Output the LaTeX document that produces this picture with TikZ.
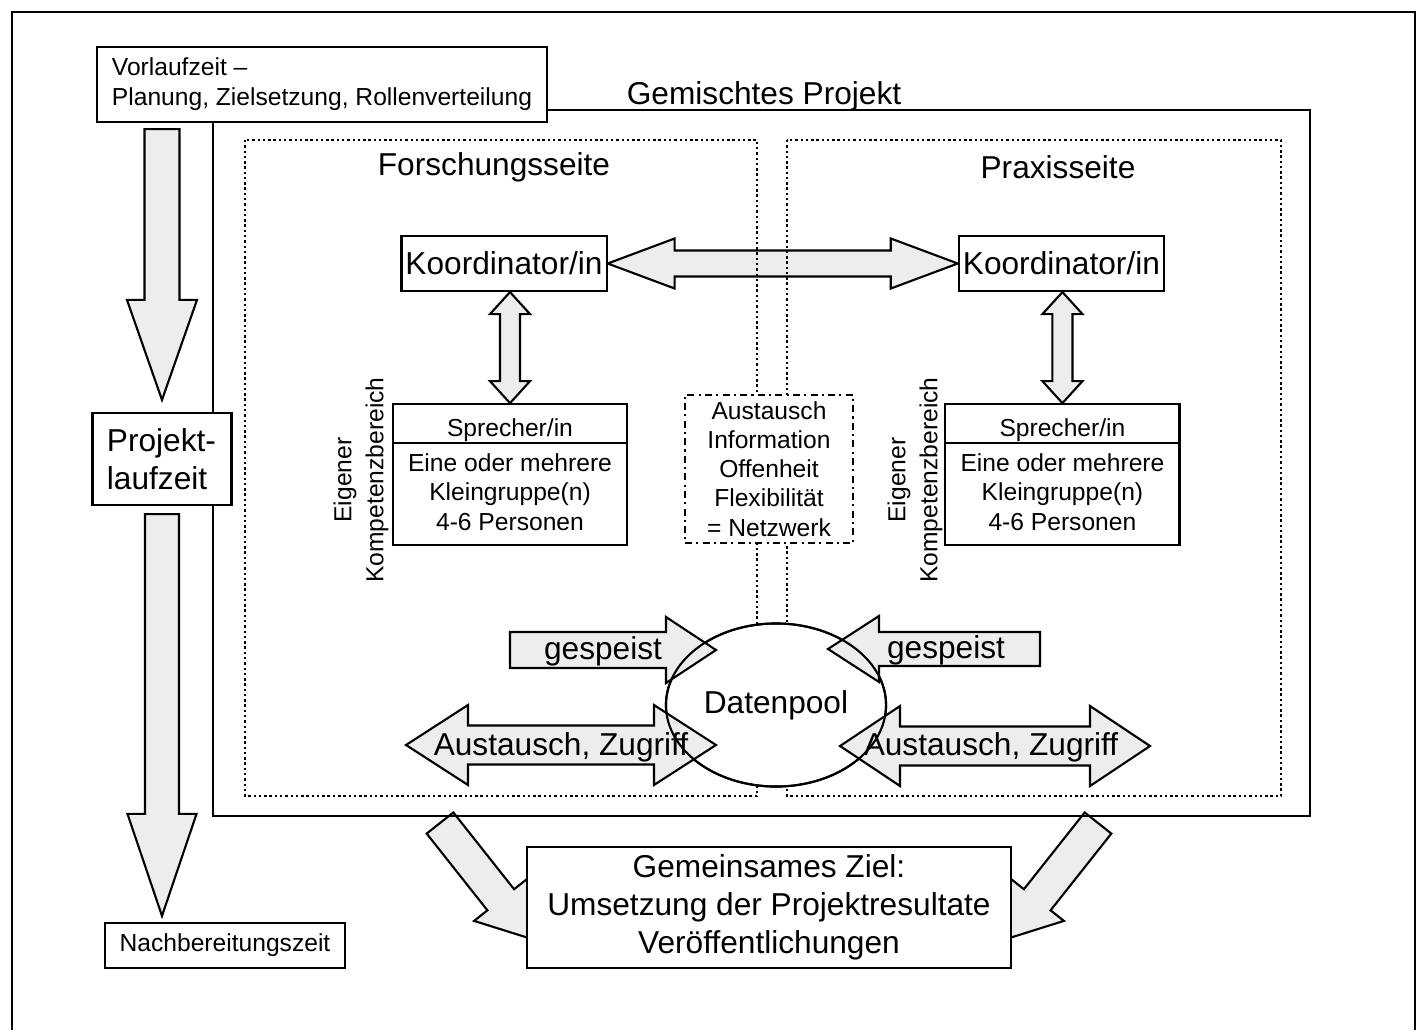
\documentclass[tikz,border=0pt]{standalone}
\usepackage{fontspec}
\setmainfont{Liberation Sans}
\usetikzlibrary{positioning,calc,shapes.geometric}

\pgfdeclarelayer{back}
\pgfsetlayers{back,main}

% block arrows: tail/end, tip/end, head length, head half width, shaft half width
\newcommand{\blkarrow}[5]{%
  \draw[blk] ($(#1)!#5!90:(#2)$) -- ($(#2)!#3!(#1)!#5!-90:(#1)$) -- ($(#2)!#3!(#1)!#4!-90:(#1)$)
    -- (#2) -- ($(#2)!#3!(#1)!#4!90:(#1)$) -- ($(#2)!#3!(#1)!#5!90:(#1)$) -- ($(#1)!#5!-90:(#2)$) -- cycle;}
\newcommand{\dblarrow}[5]{%
  \draw[blk] (#1) -- ($(#1)!#3!(#2)!#4!90:(#2)$) -- ($(#1)!#3!(#2)!#5!90:(#2)$)
    -- ($(#2)!#3!(#1)!#5!-90:(#1)$) -- ($(#2)!#3!(#1)!#4!-90:(#1)$) -- (#2)
    -- ($(#2)!#3!(#1)!#4!90:(#1)$) -- ($(#2)!#3!(#1)!#5!90:(#1)$)
    -- ($(#1)!#3!(#2)!#5!-90:(#2)$) -- ($(#1)!#3!(#2)!#4!-90:(#2)$) -- cycle;}

\begin{document}
\begin{tikzpicture}[
  x=0.01cm, y=-0.01cm,
  frame/.style={draw, line width=0.6pt},
  box/.style={rectangle, draw, fill=white, line width=0.6pt, inner sep=0pt},
  big/.style={font=\fontsize{9}{10.8}\selectfont, align=center, inner sep=0pt},
  small/.style={font=\fontsize{7}{8.3}\selectfont, align=center, inner sep=0pt},
  koord/.style={box, big, minimum width=2.05cm, minimum height=0.55cm},
  group/.style={box, minimum width=2.34cm, minimum height=1.41cm},
  side/.style={draw, line width=0.7pt, dash pattern=on 0.7pt off 0.8pt},
  netz/.style={box, small, line width=0.8pt, dash pattern=on 2pt off 1.2pt on 0.6pt off 1.2pt, minimum width=1.68cm, minimum height=1.48cm},
  pool/.style={ellipse, draw, line width=0.6pt, minimum width=2.2cm, minimum height=1.63cm, inner sep=0pt},
  blk/.style={draw, fill=black!7, line width=0.6pt, line join=miter}
]
\useasboundingbox (0,0) rectangle (1424,1030);

% Frame
\draw[frame] (12,1030) -- (12,12) -- (1415,12) -- (1415,1030);

% Mixed project
\draw[frame] (213,110) rectangle (1310,816);
\node[big] (gpt) at (764,96) {Gemischtes Projekt};

% Time line
\node[box, small, align=left, minimum width=4.5cm, minimum height=0.75cm, font=\fontsize{7}{8.5}\selectfont] (vz) at (322,84.5) {Vorlaufzeit –\\Planung, Zielsetzung, Rollenverteilung};
\node[box, big, align=left, text width=1.1cm, inner xsep=0.145cm, minimum height=0.92cm] (pl) at (162,459) {Projekt-\\laufzeit};
\node[box, small, minimum width=2.4cm, minimum height=0.45cm] (nb) at (225,945.5) {Nachbereitungszeit};

\coordinate (a1s) at ($(pl.north |- vz.south)+(0,6)$);
\coordinate (a1e) at ($(pl.north)+(0,-12)$);
\blkarrow{a1s}{a1e}{1cm}{0.35cm}{0.175cm}
\coordinate (a2s) at ($(pl.south)+(0,8)$);
\coordinate (a2e) at ($(pl.south |- nb.north)+(0,-6)$);
\blkarrow{a2s}{a2e}{1.02cm}{0.345cm}{0.17cm}

% Coordinators and groups
\node[koord] (kf) at (504,263.5) {Koordinator/in};
\node[koord] (kp) [right=3.5cm of kf] {Koordinator/in};
\node[group] (sf) [below=1.11cm of kf, xshift=0.06cm] {};
\node[group] (sp) [below=1.11cm of kp, xshift=0.01cm] {};

\begin{pgfonlayer}{back}
\dblarrow{kf.east}{kp.west}{0.67cm}{0.25cm}{0.13cm}
\dblarrow{sf.north |- kf.south}{sf.north}{0.22cm}{0.2cm}{0.1cm}
\dblarrow{sp.north |- kp.south}{sp.north}{0.22cm}{0.2cm}{0.1cm}
\end{pgfonlayer}

\draw[line width=0.6pt] ($(sf.north west)+(0,40)$) -- ($(sf.north east)+(0,40)$);
\node[small] (sft) at ($(sf.north)+(0,27)$) {Sprecher/in};
\node[small, font=\fontsize{7}{8.4}\selectfont] (sfb) at ($(sf.south)+(0,-54.5)$) {Eine oder mehrere\\Kleingruppe(n)\\4-6 Personen};
\draw[line width=0.6pt] ($(sp.north west)+(0,40)$) -- ($(sp.north east)+(0,40)$);
\node[small] (spt) at ($(sp.north)+(0,27)$) {Sprecher/in};
\node[small, font=\fontsize{7}{8.4}\selectfont] (spb) at ($(sp.south)+(0,-54.5)$) {Eine oder mehrere\\Kleingruppe(n)\\4-6 Personen};

\node[small, rotate=90, font=\fontsize{7}{9.1}\selectfont] (kbf) at (361,480) {Eigener\\Kompetenzbereich};
\node[small, rotate=90, font=\fontsize{7}{9.1}\selectfont] (kbp) at (915,480) {Eigener\\Kompetenzbereich};

% Research and practice sides
\draw[side] (245,140) rectangle (757,796);
\draw[side] (787,140) rectangle (1281,796);
\node[big] (fs) at (494,167) {Forschungsseite};
\node[big] (ps) at (1058,167) {Praxisseite};

\node[netz] (nw) at (769,469) {Austausch\\Information\\Offenheit\\Flexibilität\\= Netzwerk};

% Data pool
\node[pool, fill=white] (dpbg) at (776,705) {};

\coordinate (gl1) at (510,650);
\coordinate (gl2) at (716,650);
\blkarrow{gl1}{gl2}{0.5cm}{0.33cm}{0.18cm}
\node[big] (gsl) at (603,651) {gespeist};
\coordinate (gr1) at (1040,649);
\coordinate (gr2) at (828,649);
\blkarrow{gr1}{gr2}{0.51cm}{0.33cm}{0.17cm}
\node[big] (gsr) at (946,650) {gespeist};

\coordinate (zl1) at (406,745);
\coordinate (zl2) at (716,745);
\dblarrow{zl1}{zl2}{0.62cm}{0.4cm}{0.195cm}
\node[big] (zgl) at (561,747) {Austausch, Zugriff};
\coordinate (zr1) at (840,746);
\coordinate (zr2) at (1150,746);
\dblarrow{zr1}{zr2}{0.6cm}{0.4cm}{0.195cm}
\node[big] (zgr) at (991,747) {Austausch, Zugriff};

\node[pool, big] (dp) at (dpbg) {Datenpool};

% Common goal
\node[box, big, minimum width=4.84cm, minimum height=1.21cm] (gz) at (769,907.5) {Gemeinsames Ziel:\\Umsetzung der Projektresultate\\Veröffentlichungen};
\begin{pgfonlayer}{back}
\coordinate (d1s) at (440,823);
\coordinate (d1e) at ($(gz.west)+(6,31.5)$);
\blkarrow{d1s}{d1e}{0.5cm}{0.34cm}{0.17cm}
\coordinate (d2s) at (1098,823);
\coordinate (d2e) at ($(gz.east)+(-6,31.5)$);
\blkarrow{d2s}{d2e}{0.5cm}{0.34cm}{0.17cm}
\end{pgfonlayer}

\end{tikzpicture}
\end{document}
